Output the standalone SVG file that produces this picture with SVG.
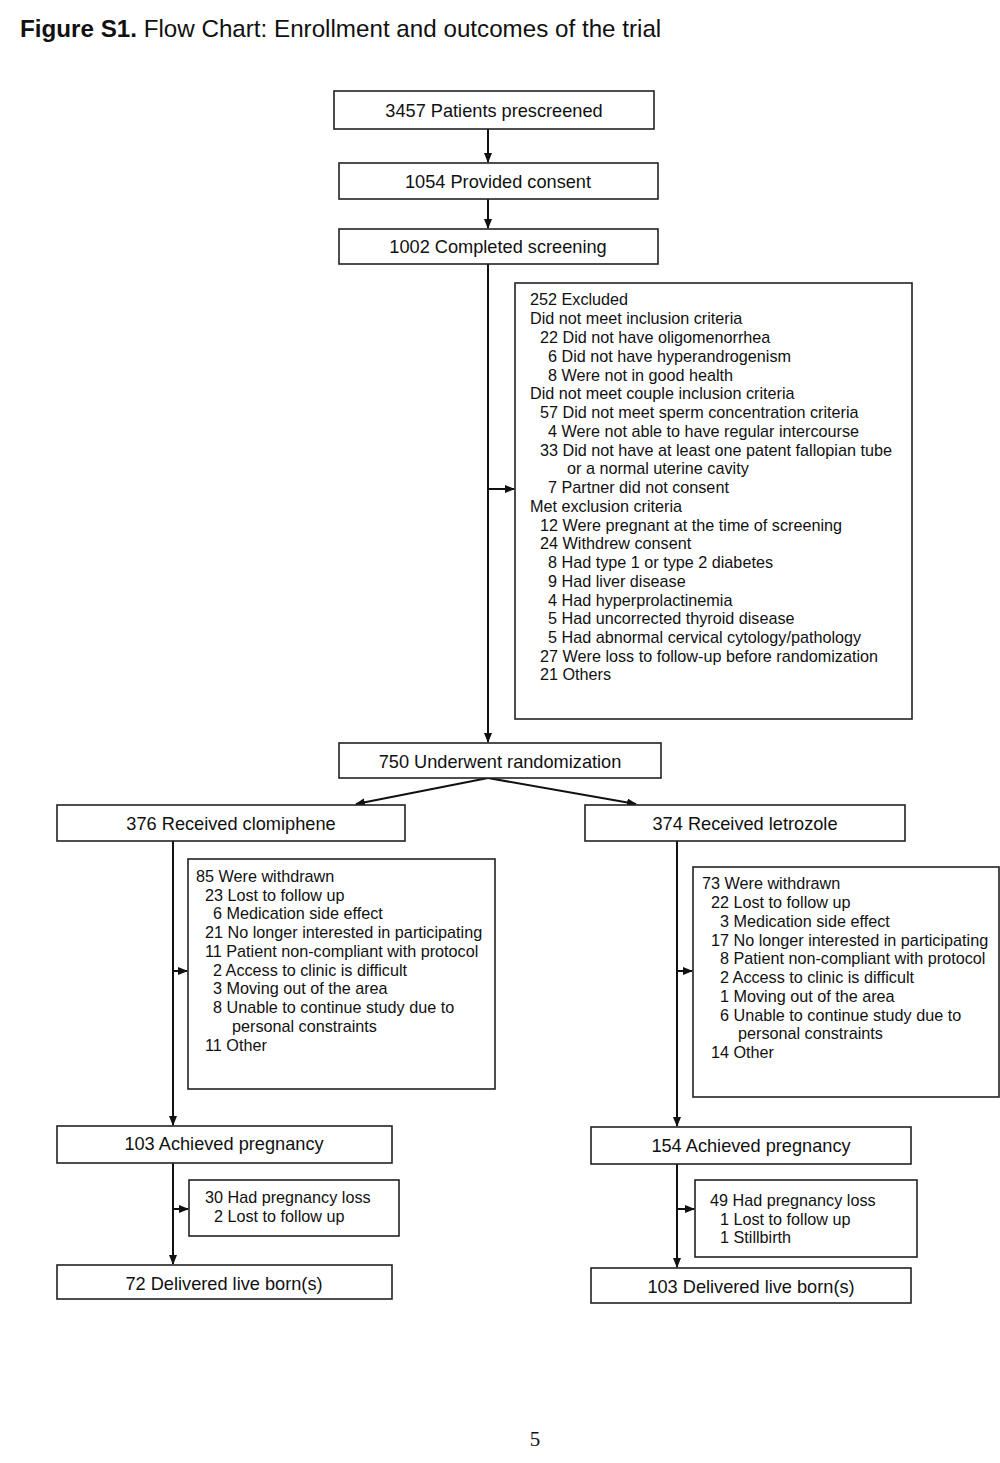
<svg xmlns="http://www.w3.org/2000/svg" width="1000" height="1463" viewBox="0 0 1000 1463">
<defs>
<marker id="ah" markerWidth="10" markerHeight="8" refX="9" refY="4" orient="auto" markerUnits="userSpaceOnUse">
<path d="M0,0 L10,4 L0,8 Z" fill="#111"/>
</marker>
<style>
.box{fill:#fff;stroke:#222;stroke-width:1.6}
.t{font-family:"Liberation Sans",Arial,sans-serif;font-size:18.2px;fill:#111}
.s{font-family:"Liberation Sans",Arial,sans-serif;font-size:16.2px;fill:#111}
.c{text-anchor:middle}
.ln{stroke:#111;stroke-width:2;fill:none}
</style>
</defs>
<rect width="1000" height="1463" fill="#fff"/>
<text x="20" y="37" font-family="'Liberation Sans',Arial,sans-serif" font-size="24.2" fill="#111"><tspan font-weight="bold">Figure S1.</tspan> Flow Chart: Enrollment and outcomes of the trial</text>

<g id="connectors">
<line class="ln" x1="488" y1="129" x2="488" y2="162" marker-end="url(#ah)"/>
<line class="ln" x1="488" y1="199" x2="488" y2="228" marker-end="url(#ah)"/>
<line class="ln" x1="488" y1="264" x2="488" y2="742" marker-end="url(#ah)"/>
<line class="ln" x1="488" y1="489" x2="514" y2="489" marker-end="url(#ah)"/>
<line class="ln" x1="488" y1="778" x2="356" y2="804" marker-end="url(#ah)"/>
<line class="ln" x1="488" y1="778" x2="636" y2="804" marker-end="url(#ah)"/>
<line class="ln" x1="173" y1="841" x2="173" y2="1125" marker-end="url(#ah)"/>
<line class="ln" x1="173" y1="971" x2="187" y2="971" marker-end="url(#ah)"/>
<line class="ln" x1="677" y1="841" x2="677" y2="1126" marker-end="url(#ah)"/>
<line class="ln" x1="677" y1="971" x2="692" y2="971" marker-end="url(#ah)"/>
<line class="ln" x1="173" y1="1163" x2="173" y2="1264" marker-end="url(#ah)"/>
<line class="ln" x1="173" y1="1209" x2="188" y2="1209" marker-end="url(#ah)"/>
<line class="ln" x1="677" y1="1164" x2="677" y2="1267" marker-end="url(#ah)"/>
<line class="ln" x1="677" y1="1209" x2="694" y2="1209" marker-end="url(#ah)"/>
</g>

<g id="prescreened"><rect class="box" x="334" y="91" width="320" height="38"/><text class="t c" x="494" y="117">3457 Patients prescreened</text></g>
<g id="consent"><rect class="box" x="339" y="163" width="319" height="36"/><text class="t c" x="498" y="188">1054 Provided consent</text></g>
<g id="screening"><rect class="box" x="339" y="229" width="319" height="35"/><text class="t c" x="498" y="253">1002 Completed screening</text></g>

<g id="excluded"><rect class="box" x="515" y="283" width="397" height="436"/>
<text class="s">
<tspan x="530" y="305">252 Excluded</tspan>
<tspan x="530" y="324">Did not meet inclusion criteria</tspan>
<tspan x="540" y="343">22 Did not have oligomenorrhea</tspan>
<tspan x="548" y="362">6 Did not have hyperandrogenism</tspan>
<tspan x="548" y="381">8 Were not in good health</tspan>
<tspan x="530" y="399">Did not meet couple inclusion criteria</tspan>
<tspan x="540" y="418">57 Did not meet sperm concentration criteria</tspan>
<tspan x="548" y="437">4 Were not able to have regular intercourse</tspan>
<tspan x="540" y="456">33 Did not have at least one patent fallopian tube</tspan>
<tspan x="567" y="474">or a normal uterine cavity</tspan>
<tspan x="548" y="493">7 Partner did not consent</tspan>
<tspan x="530" y="512">Met exclusion criteria</tspan>
<tspan x="540" y="531">12 Were pregnant at the time of screening</tspan>
<tspan x="540" y="549">24 Withdrew consent</tspan>
<tspan x="548" y="568">8 Had type 1 or type 2 diabetes</tspan>
<tspan x="548" y="587">9 Had liver disease</tspan>
<tspan x="548" y="606">4 Had hyperprolactinemia</tspan>
<tspan x="548" y="624">5 Had uncorrected thyroid disease</tspan>
<tspan x="548" y="643">5 Had abnormal cervical cytology/pathology</tspan>
<tspan x="540" y="662">27 Were loss to follow-up before randomization</tspan>
<tspan x="540" y="680">21 Others</tspan>
</text></g>

<g id="randomization"><rect class="box" x="339" y="743" width="322" height="35"/><text class="t c" x="500" y="768">750 Underwent randomization</text></g>
<g id="clomiphene"><rect class="box" x="57" y="805" width="348" height="36"/><text class="t c" x="231" y="830">376 Received clomiphene</text></g>
<g id="letrozole"><rect class="box" x="585" y="805" width="320" height="36"/><text class="t c" x="745" y="830">374 Received letrozole</text></g>

<g id="withdrawn-clomiphene"><rect class="box" x="188" y="859" width="307" height="230"/>
<text class="s">
<tspan x="196" y="882">85 Were withdrawn</tspan>
<tspan x="205" y="901">23 Lost to follow up</tspan>
<tspan x="213" y="919">6 Medication side effect</tspan>
<tspan x="205" y="938">21 No longer interested in participating</tspan>
<tspan x="205" y="957">11 Patient non-compliant with protocol</tspan>
<tspan x="213" y="976">2 Access to clinic is difficult</tspan>
<tspan x="213" y="994">3 Moving out of the area</tspan>
<tspan x="213" y="1013">8 Unable to continue study due to</tspan>
<tspan x="232" y="1032">personal constraints</tspan>
<tspan x="205" y="1051">11 Other</tspan>
</text></g>

<g id="withdrawn-letrozole"><rect class="box" x="693" y="867" width="306" height="230"/>
<text class="s">
<tspan x="702" y="889">73 Were withdrawn</tspan>
<tspan x="711" y="908">22 Lost to follow up</tspan>
<tspan x="720" y="927">3 Medication side effect</tspan>
<tspan x="711" y="946">17 No longer interested in participating</tspan>
<tspan x="720" y="964">8 Patient non-compliant with protocol</tspan>
<tspan x="720" y="983">2 Access to clinic is difficult</tspan>
<tspan x="720" y="1002">1 Moving out of the area</tspan>
<tspan x="720" y="1021">6 Unable to continue study due to</tspan>
<tspan x="738" y="1039">personal constraints</tspan>
<tspan x="711" y="1058">14 Other</tspan>
</text></g>

<g id="pregnancy-clomiphene"><rect class="box" x="57" y="1126" width="335" height="37"/><text class="t c" x="224" y="1150">103 Achieved pregnancy</text></g>
<g id="pregnancy-letrozole"><rect class="box" x="591" y="1127" width="320" height="37"/><text class="t c" x="751" y="1152">154 Achieved pregnancy</text></g>

<g id="loss-clomiphene"><rect class="box" x="189" y="1180" width="210" height="56"/>
<text class="s"><tspan x="205" y="1203">30 Had pregnancy loss</tspan><tspan x="214" y="1222">2 Lost to follow up</tspan></text></g>
<g id="loss-letrozole"><rect class="box" x="695" y="1180" width="222" height="77"/>
<text class="s"><tspan x="710" y="1206">49 Had pregnancy loss</tspan><tspan x="720" y="1225">1 Lost to follow up</tspan><tspan x="720" y="1243">1 Stillbirth</tspan></text></g>

<g id="live-clomiphene"><rect class="box" x="57" y="1265" width="335" height="34"/><text class="t c" x="224" y="1290">72 Delivered live born(s)</text></g>
<g id="live-letrozole"><rect class="box" x="591" y="1268" width="320" height="35"/><text class="t c" x="751" y="1293">103 Delivered live born(s)</text></g>

<text x="535" y="1446" font-family="'Liberation Serif','Times New Roman',serif" font-size="21" fill="#111" text-anchor="middle">5</text>
</svg>
